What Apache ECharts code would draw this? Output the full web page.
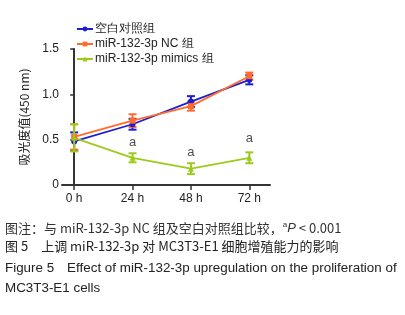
<!DOCTYPE html>
<html>
<head>
<meta charset="utf-8">
<script src="https://cdn.jsdelivr.net/npm/echarts@6/dist/echarts.min.js"></script>
<style>
  html, body { margin: 0; padding: 0; background: #fff; }
  #chart { width: 405px; height: 315px; }
</style>
</head>
<body>
<div id="chart"></div>
<script>
  // 时间点 (h)
  var hours = [0, 24, 48, 72]
  var hourLabels = ['0 h', '24 h', '48 h', '72 h']
  var seriesNames = ['空白对照组', 'miR-132-3p NC 组', 'miR-132-3p mimics 组']
  // 均值
  var blankMean = [0.48, 0.67, 0.92, 1.16]
  var ncMean = [0.53, 0.71, 0.87, 1.20]
  var mimicsMean = [0.52, 0.30, 0.18, 0.30]
  // 误差
  var blankErr = [0.10, 0.06, 0.06, 0.05]
  var ncErr = [0.14, 0.07, 0.05, 0.04]
  var mimicsErr = [0.15, 0.05, 0.06, 0.06]
  // 显著性标记 a
  var sigY = [null, 0.47, 0.36, 0.51]
  var colors = ['#1c1fd1', '#ff6b2b', '#9ccb19']
  var symbols = ['circle', 'rect', 'triangle']

  var chart = echarts.init(document.getElementById('chart'))
  var font = 'Liberation Sans, Arial, sans-serif'

  function pts(mean) {
    return hours.map(function (h, i) { return [h, mean[i]] })
  }
  function errData(mean, err) {
    return hours.map(function (h, i) { return [h, mean[i] - err[i], mean[i] + err[i]] })
  }
  function errSeries(mean, err, color, z) {
    return {
      type: 'custom',
      silent: true,
      z: z,
      renderItem: function (params, api) {
        var lo = api.coord([api.value(0), api.value(1)])
        var hi = api.coord([api.value(0), api.value(2)])
        var w = 4
        var st = { stroke: color, lineWidth: 2 }
        return {
          type: 'group',
          children: [
            { type: 'line', shape: { x1: lo[0], y1: lo[1], x2: hi[0], y2: hi[1] }, style: st },
            { type: 'line', shape: { x1: lo[0] - w, y1: lo[1], x2: lo[0] + w, y2: lo[1] }, style: st },
            { type: 'line', shape: { x1: hi[0] - w, y1: hi[1], x2: hi[0] + w, y2: hi[1] }, style: st }
          ]
        }
      },
      data: errData(mean, err)
    }
  }
  function lineSeries(idx, mean) {
    return {
      name: seriesNames[idx],
      type: 'line',
      data: pts(mean),
      symbol: symbols[idx],
      symbolSize: 6,
      z: 4,
      lineStyle: { color: colors[idx], width: 1.8 },
      itemStyle: { color: colors[idx] }
    }
  }

  var option = {
    animation: false,
    grid: { left: 62, right: 135, top: 49, bottom: 130 },
    legend: {
      left: 71,
      top: 18,
      orient: 'vertical',
      itemGap: 3,
      itemWidth: 16,
      itemHeight: 6,
      textStyle: { fontFamily: font, fontSize: 12, color: '#222', padding: [0, 0, 0, -3] },
      data: seriesNames
    },
    xAxis: {
      type: 'value',
      min: -5,
      max: 80.5,
      splitLine: { show: false },
      axisLine: { lineStyle: { color: '#333', width: 2 } },
      axisTick: { length: 5, lineStyle: { color: '#333', width: 1.5 }, customValues: hours },
      axisLabel: {
        customValues: hours,
        fontFamily: font, fontSize: 12, color: '#222', margin: 8,
        formatter: function (v) { return hourLabels[hours.indexOf(v)] }
      }
    },
    yAxis: {
      type: 'value',
      min: 0,
      max: 1.5,
      interval: 0.5,
      name: '吸光度值(450 nm)',
      nameLocation: 'middle',
      nameGap: 32,
      nameTextStyle: { fontFamily: 'Noto Sans CJK SC', fontSize: 12, color: '#222' },
      splitLine: { show: false },
      axisLine: { show: true, lineStyle: { color: '#333', width: 2 } },
      axisTick: { show: true, length: 4, lineStyle: { color: '#333', width: 1.5 } },
      axisLabel: {
        fontFamily: font, fontSize: 12, color: '#222', margin: 3,
        formatter: function (v) { return v === 0 ? '0' : v.toFixed(1) }
      }
    },
    series: [
      errSeries(blankMean, blankErr, colors[0], 3),
      errSeries(ncMean, ncErr, colors[1], 3),
      errSeries(mimicsMean, mimicsErr, colors[2], 5),
      lineSeries(0, blankMean),
      lineSeries(1, ncMean),
      lineSeries(2, mimicsMean),
      {
        type: 'scatter',
        silent: true,
        symbolSize: 0,
        data: hours.map(function (h, i) { return sigY[i] == null ? null : [h, sigY[i]] }).filter(Boolean),
        label: { show: true, position: 'inside', formatter: 'a', fontFamily: font, fontSize: 13, color: '#222' }
      }
    ],
    graphic: [
      {
        type: 'text', left: 5, top: 221,
        style: {
          text: '图注：与 miR-132-3p NC 组及空白对照组比较，{sup|a}{it|P} < 0.001',
          font: '13px "Noto Sans CJK SC", sans-serif', fill: '#333',
          rich: {
            sup: { fontSize: 8, verticalAlign: 'top', fill: '#333', padding: [0, 0, 6, 0] },
            it: { fontStyle: 'italic', fontSize: 13, fill: '#333' }
          }
        }
      },
      {
        type: 'text', left: 5, top: 240,
        style: { text: '图 5　上调 miR-132-3p 对 MC3T3-E1 细胞增殖能力的影响', font: '13px "Noto Sans CJK SC", sans-serif', fill: '#222' }
      },
      {
        type: 'text', left: 5, top: 262,
        style: { text: 'Figure 5　Effect of miR-132-3p upregulation on the proliferation of', font: '13.4px "Liberation Sans", Arial, sans-serif', fill: '#222' }
      },
      {
        type: 'text', left: 5, top: 282,
        style: { text: 'MC3T3-E1 cells', font: '13.4px "Liberation Sans", Arial, sans-serif', fill: '#222' }
      }
    ]
  }
  chart.setOption(option)
</script>
</body>
</html>
